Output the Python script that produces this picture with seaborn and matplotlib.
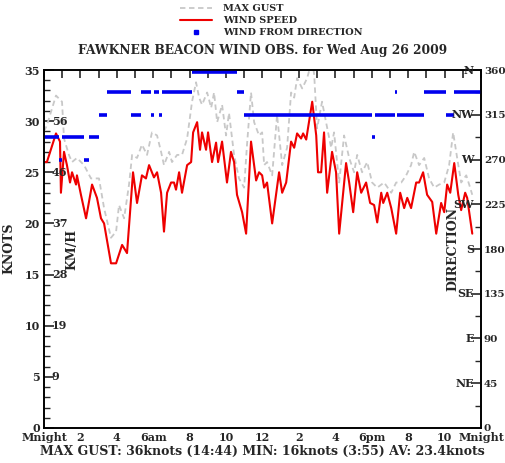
import numpy as np
import pandas as pd
import matplotlib
matplotlib.use('Agg')
import matplotlib.pyplot as plt
import matplotlib.transforms as mtransforms
from matplotlib.ticker import MultipleLocator
import seaborn as sns

# wind speed (knots), time in hours after midnight
speed_hours = [0.0, 0.16, 0.66, 0.88, 0.93, 1.10, 1.26, 1.43, 1.54, 1.76, 1.81, 2.03, 2.31, 2.64,
               2.91, 3.13, 3.30, 3.68, 3.96, 4.29, 4.56, 4.89, 5.11, 5.38, 5.60, 5.77, 6.04, 6.21,
               6.43, 6.59, 6.76, 6.98, 7.14, 7.25, 7.42, 7.58, 7.86, 8.08, 8.19, 8.41, 8.57, 8.68,
               8.90, 9.01, 9.23, 9.45, 9.56, 9.78, 10.05, 10.27, 10.44, 10.60, 10.88, 11.10, 11.37,
               11.65, 11.81, 11.98, 12.09, 12.25, 12.53, 12.91, 13.08, 13.30, 13.57, 13.74, 13.90,
               14.12, 14.23, 14.40, 14.73, 14.95, 15.05, 15.22, 15.38, 15.55, 15.82, 16.04, 16.21,
               16.59, 16.76, 16.98, 17.20, 17.42, 17.69, 17.91, 18.13, 18.30, 18.52, 18.63, 18.85,
               19.07, 19.34, 19.56, 19.78, 19.95, 20.16, 20.44, 20.60, 20.82, 21.04, 21.32, 21.54,
               21.81, 21.98, 22.14, 22.31, 22.53, 22.75, 22.91, 23.13, 23.24, 23.52]
speed_knots = [26.0, 26.0, 28.8, 28.0, 23.0, 27.0, 25.7, 24.0, 25.0, 23.8, 24.7, 22.8, 20.5, 23.8,
               22.5, 20.5, 20.0, 16.1, 16.1, 17.9, 17.1, 25.0, 22.0, 24.7, 24.4, 25.7, 24.5, 25.0,
               23.0, 19.2, 23.0, 24.0, 24.0, 23.3, 25.0, 23.0, 25.7, 26.0, 28.9, 29.9, 27.2, 28.9,
               27.2, 28.9, 26.0, 27.9, 26.0, 28.0, 24.0, 27.0, 26.0, 22.8, 21.1, 19.0, 28.0,
               24.2, 25.0, 24.7, 23.5, 24.0, 20.0, 25.0, 23.0, 24.0, 28.0, 27.4, 28.8,
               28.3, 28.8, 28.2, 31.9, 28.6, 25.0, 25.0, 28.9, 23.0, 27.0, 25.0, 19.0,
               25.9, 24.0, 21.1, 25.0, 23.0, 24.0, 22.0, 21.8, 20.1, 23.0, 22.0, 23.0,
               21.5, 19.0, 23.0, 21.5, 22.5, 21.5, 24.0, 24.0, 25.0, 22.8, 22.1, 19.0,
               22.0, 21.1, 23.8, 23.0, 25.9, 22.8, 21.3, 23.0, 22.5, 19.0]

# max gust (knots)
gust_hours = [0.0, 0.16, 0.66, 0.99, 1.10, 1.37, 1.54, 1.81, 2.20, 2.58, 3.02, 3.30, 3.68, 3.96,
              4.12, 4.40, 4.67, 4.84, 5.11, 5.38, 5.66, 5.93, 6.21, 6.43, 6.59, 6.87, 7.03, 7.31,
              7.58, 7.86, 8.13, 8.35, 8.52, 8.68, 8.96, 9.18, 9.34, 9.51, 9.78, 10.00, 10.16,
              10.44, 10.71, 10.99, 11.15, 11.37, 11.54, 11.81, 11.98, 12.09, 12.25, 12.53, 12.80,
              13.08, 13.35, 13.57, 13.74, 13.90, 14.18, 14.45, 14.73, 14.84, 15.00, 15.27, 15.49,
              15.77, 15.93, 16.21, 16.48, 16.76, 17.03, 17.20, 17.47, 17.75, 18.02, 18.30, 18.68,
              19.07, 19.34, 19.62, 19.89, 20.16, 20.33, 20.60, 20.88, 21.15, 21.43, 21.70, 21.98,
              22.25, 22.47, 22.69, 22.91, 23.19, 23.35, 23.52]
gust_knots = [29.0, 29.6, 32.5, 31.9, 28.3, 26.7, 26.0, 26.4, 25.7, 24.4, 24.4, 21.5, 18.6, 19.2,
              21.8, 20.5, 23.8, 26.7, 26.4, 27.7, 26.7, 28.9, 28.6, 27.0, 25.7, 27.0, 26.0, 26.7,
              26.7, 28.3, 31.9, 33.8, 32.3, 31.6, 32.8, 31.3, 32.8, 29.9, 31.6, 28.6, 30.8,
              26.7, 24.4, 23.5, 27.7, 32.8, 29.9, 28.6, 28.9, 25.7, 26.0, 24.7, 30.6,
              25.7, 27.4, 32.8, 32.3, 34.2, 33.2, 34.2, 36.0, 34.5, 29.3, 31.9, 29.9,
              27.4, 28.9, 24.0, 28.6, 26.4, 25.0, 26.7, 25.0, 26.0, 24.0, 23.5, 24.0,
              23.0, 24.0, 24.0, 24.7, 25.7, 27.0, 25.7, 26.4, 24.4, 23.5, 23.8, 24.0,
              25.7, 28.9, 26.4, 24.0, 24.7, 23.8, 22.8]

# wind from direction (degrees), as runs of constant direction
dir_start = [0.0, 0.82, 1.0, 2.2, 2.47, 3.02, 3.45, 4.78, 5.33, 5.88, 6.04, 6.3, 6.48, 8.13,
             10.6, 11.0, 18.0, 18.2, 19.3, 19.4, 20.88, 22.1, 22.5]
dir_end = [0.8, 1.0, 2.2, 2.47, 3.02, 3.45, 4.78, 5.33, 5.88, 6.04, 6.3, 6.48, 8.13, 10.6,
           11.0, 18.0, 18.2, 19.3, 19.4, 20.88, 22.1, 22.5, 24.0]
dir_deg = [292.5, 270, 292.5, 270, 292.5, 315, 337.5, 315, 337.5, 315, 337.5, 315, 337.5, 358,
           337.5, 315, 292.5, 315, 337.5, 315, 337.5, 315, 337.5]

hour_labels = ['Mnight', '', '2', '', '4', '', '6am', '', '8', '', '10', '', '12', '', '2', '',
               '4', '', '6pm', '', '8', '', '10', '', 'Mnight']
knot_ticks = [0, 5, 10, 15, 20, 25, 30, 35]
kmh_labels = ['9', '19', '28', '37', '46', '56']
compass = ['NE', 'E', 'SE', 'S', 'SW', 'W', 'NW', 'N']
compass_deg = [45, 90, 135, 180, 225, 270, 315, 360]

sns.set_style('white')
plt.rcParams['font.family'] = ['DejaVu Serif']
plt.rcParams['font.weight'] = 'bold'

df_speed = pd.DataFrame({'hora': speed_hours, 'nos': speed_knots})
df_gust = pd.DataFrame({'hora': gust_hours, 'nos': gust_knots})

fig = plt.figure(figsize=(5.05, 4.63), dpi=100)
ax = fig.add_axes([0.0871, 0.0756, 0.8654, 0.7732])

sns.lineplot(x='hora', y='nos', data=df_gust, ax=ax, color='#c8c8c8', lw=1.3,
             linestyle=(0, (3, 2)), label='MAX GUST')
sns.lineplot(x='hora', y='nos', data=df_speed, ax=ax, color='#ee0000', lw=1.5,
             label='WIND SPEED')

ax2 = ax.twinx()
ax2.hlines(dir_deg, dir_start, dir_end, color='#0000ee', lw=2.6)
dir_handle = plt.Line2D([], [], color='#0000ee', marker='s', ms=2.5, lw=0)

ax.set_xlim(0, 24)
ax.set_ylim(0, 35)
ax2.set_ylim(0, 360)

ax.set_xticks(range(25))
ax.set_xticklabels(hour_labels)
ax.set_yticks(knot_ticks)
ax.yaxis.set_minor_locator(MultipleLocator(1))
ax.tick_params(axis='x', direction='in', top=True, length=6, width=1.2, pad=3, labelsize=8)
ax.tick_params(axis='y', which='major', direction='in', length=7, width=1.2, labelsize=8, pad=3)
ax.tick_params(axis='y', which='minor', direction='in', length=4, width=1)

ax2.set_yticks(range(0, 361, 45))
ax2.yaxis.set_minor_locator(MultipleLocator(22.5))
ax2.tick_params(axis='y', which='major', direction='in', length=7, width=1.2, labelsize=7.5,
                pad=2)
ax2.tick_params(axis='y', which='minor', direction='in', length=4, width=1)

for a in (ax, ax2):
    for s in a.spines.values():
        s.set_linewidth(1.2)
        s.set_color('black')

ax.set_xlabel('')
ax.set_ylabel('')
ax2.set_ylabel('')
fig.text(0.017, 0.464, 'KNOTS', rotation=90, ha='center', va='center', fontsize=9)

# km/h inside the left axis, compass points inside the right axis
trans_l = mtransforms.blended_transform_factory(ax.transAxes, ax.transData)
for k, lab in zip(knot_ticks[1:7], kmh_labels):
    ax.text(0.018, k, lab, transform=trans_l, ha='left', va='center', fontsize=8)
trans_r = mtransforms.blended_transform_factory(ax2.transAxes, ax2.transData)
for d, lab in zip(compass_deg, compass):
    ax2.text(0.984, d, lab, transform=trans_r, ha='right', va='center', fontsize=8)
ax.text(0.065, 0.5, 'KM/H', transform=ax.transAxes, rotation=90, ha='center', va='center',
        fontsize=9)
ax2.text(0.936, 0.5, 'DIRECTION', transform=ax2.transAxes, rotation=90, ha='center',
         va='center', fontsize=9)

ax.get_legend().remove()
h, l = ax.get_legend_handles_labels()
fig.legend(h + [dir_handle], l + ['WIND FROM DIRECTION'], loc='upper left',
           bbox_to_anchor=(0.34, 1.01), frameon=False, fontsize=7, handlelength=3.2,
           labelspacing=0.3, handletextpad=1.2)

fig.text(0.52, 0.892, 'FAWKNER BEACON WIND OBS. for Wed Aug 26 2009', ha='center',
         va='center', fontsize=8.8)
fig.text(0.52, 0.024, 'MAX GUST: 36knots (14:44) MIN: 16knots (3:55) AV: 23.4knots',
         ha='center', va='center', fontsize=9)

fig.savefig('out.png', dpi=100, facecolor='white')
